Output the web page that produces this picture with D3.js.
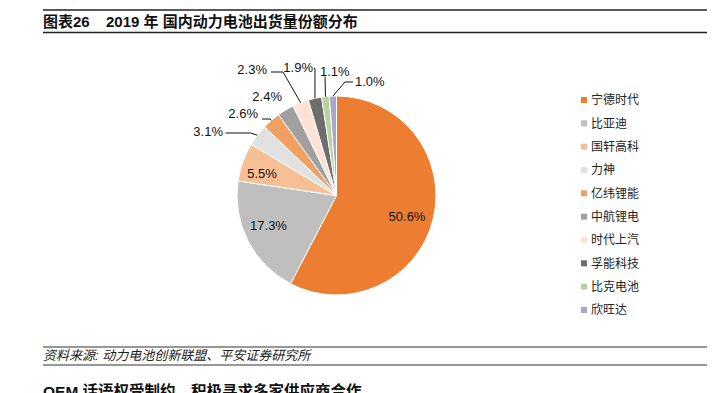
<!DOCTYPE html>
<html>
<head>
<meta charset="utf-8">
<script src="https://cdn.jsdelivr.net/npm/d3@7"></script>
<style>
  html, body { margin: 0; padding: 0; background: #fff; }
  svg { display: block; }
</style>
</head>
<body>
<div id="chart"></div>
<script>
// Data
const companies = ["宁德时代", "比亚迪", "国轩高科", "力神", "亿纬锂能", "中航锂电", "时代上汽", "孚能科技", "比克电池", "欣旺达"];
const shares = [50.6, 17.3, 5.5, 3.1, 2.6, 2.4, 2.3, 1.9, 1.1, 1.0];
const sliceColors = ["#ED7D31", "#BFBFBF", "#F7BF95", "#E1E1E1", "#F2A062", "#A0A0A0", "#FCE3D3", "#6E6E6E", "#B8D49E", "#ADA3CB"];

const titleText = "图表26";
const titleRest = "2019 年 国内动力电池出货量份额分布";
const sourceText = "资料来源: 动力电池创新联盟、平安证券研究所";
const nextHeading = "OEM 话语权受制约，积极寻求多家供应商合作";

const width = 723, height = 393;
const cx = 336.5, cy = 195.5, radius = 99.5;
const latin = "'Liberation Sans', Arial, 'Noto Sans CJK SC', sans-serif";
const cjk = "'Liberation Sans', 'Noto Sans CJK SC', sans-serif";

// Label placement (layout only), relative to the pie centre
const labelLayout = [
  { inside: true, dx: 70.5, dy: 21 },
  { inside: true, dx: -68, dy: 29.5 },
  { inside: true, dx: -74.5, dy: -22 },
  { elbow: [-86, -62.5], end: [-111, -62.5], text: [-113.5, -64.5], anchor: "end" },
  { elbow: [-66.5, -76.5], end: [-74.5, -76.5], text: [-78.5, -82.5], anchor: "end" },
  { text: [-54.5, -99.5], anchor: "end" },
  { elbow: [-53.5, -123.5], end: [-65.5, -123.5], text: [-69.5, -126.5], anchor: "end" },
  { elbow: [-21.5, -127], end: [-22.5, -127], text: [-23.5, -128.5], anchor: "end" },
  { elbow: [-11.5, -118], end: [-11.5, -119], text: [-16.5, -124.5], anchor: "start" },
  { elbow: [8.5, -113.5], end: [16.5, -113.5], text: [18.5, -114.5], anchor: "start" }
];

const svg = d3.select("#chart").append("svg")
  .attr("width", width).attr("height", height);

// Header rules and title
svg.append("line").attr("x1", 43).attr("x2", 707).attr("y1", 10).attr("y2", 10)
  .attr("stroke", "#222").attr("stroke-width", 1.5);
svg.append("line").attr("x1", 43).attr("x2", 707).attr("y1", 32.5).attr("y2", 32.5)
  .attr("stroke", "#222").attr("stroke-width", 1.5);
const title = svg.append("text").attr("x", 43).attr("y", 27)
  .attr("font-family", cjk).attr("font-size", 15).attr("font-weight", "bold").attr("fill", "#111");
title.append("tspan").text(titleText);
title.append("tspan").attr("x", 106).text(titleRest);

// Pie
const pie = d3.pie().sort(null).value(d => d.value);
const arcs = pie(companies.map((c, i) => ({ name: c, value: shares[i], i })));
const arc = d3.arc().innerRadius(0).outerRadius(radius);
const outer = d3.arc().innerRadius(radius).outerRadius(radius);

const g = svg.append("g").attr("transform", `translate(${cx},${cy})`);
g.selectAll("path.slice").data(arcs).enter().append("path")
  .attr("class", "slice")
  .attr("d", arc)
  .attr("fill", d => sliceColors[d.data.i])
  .attr("stroke", "#fff").attr("stroke-width", 1);

// Labels
arcs.forEach(d => {
  const lay = labelLayout[d.data.i];
  const txt = shares[d.data.i].toFixed(1) + "%";
  if (lay.inside) {
    g.append("text").attr("x", lay.dx).attr("y", lay.dy)
      .attr("text-anchor", "middle").attr("dy", "0.35em")
      .attr("font-family", latin).attr("font-size", 13).attr("fill", "#111")
      .text(txt);
    return;
  }
  if (lay.elbow) {
    const p0 = outer.centroid(d);
    g.append("polyline")
      .attr("points", [p0, lay.elbow, lay.end].map(p => p.join(",")).join(" "))
      .attr("fill", "none").attr("stroke", "#111").attr("stroke-width", 1);
  }
  g.append("text").attr("x", lay.text[0]).attr("y", lay.text[1])
    .attr("text-anchor", lay.anchor).attr("dy", "0.35em")
    .attr("font-family", latin).attr("font-size", 13).attr("fill", "#111")
    .text(txt);
});

// Legend
const legendY = d3.scaleLinear().domain([0, companies.length - 1]).range([100, 310]);
const legend = svg.append("g");
const rows = legend.selectAll("g").data(companies).enter().append("g")
  .attr("transform", (d, i) => `translate(581,${legendY(i)})`);
rows.append("rect").attr("x", 0).attr("y", -3).attr("width", 6).attr("height", 6)
  .attr("fill", (d, i) => sliceColors[i]);
rows.append("text").attr("x", 10).attr("y", 0).attr("dy", "0.36em")
  .attr("font-family", cjk).attr("font-size", 12).attr("fill", "#222")
  .text(d => d);

// Source and following heading (cut off at the bottom edge, as in the page)
svg.append("line").attr("x1", 43).attr("x2", 707).attr("y1", 347).attr("y2", 347)
  .attr("stroke", "#333").attr("stroke-width", 1.2);
svg.append("line").attr("x1", 43).attr("x2", 707).attr("y1", 365).attr("y2", 365)
  .attr("stroke", "#333").attr("stroke-width", 1.2);
svg.append("text").attr("x", 43).attr("y", 360)
  .attr("font-family", cjk).attr("font-size", 13).attr("font-style", "italic").attr("fill", "#222")
  .text(sourceText);
svg.append("text").attr("x", 43).attr("y", 397)
  .attr("font-family", cjk).attr("font-size", 15.5).attr("font-weight", "bold").attr("fill", "#111")
  .text(nextHeading);
</script>
</body>
</html>
